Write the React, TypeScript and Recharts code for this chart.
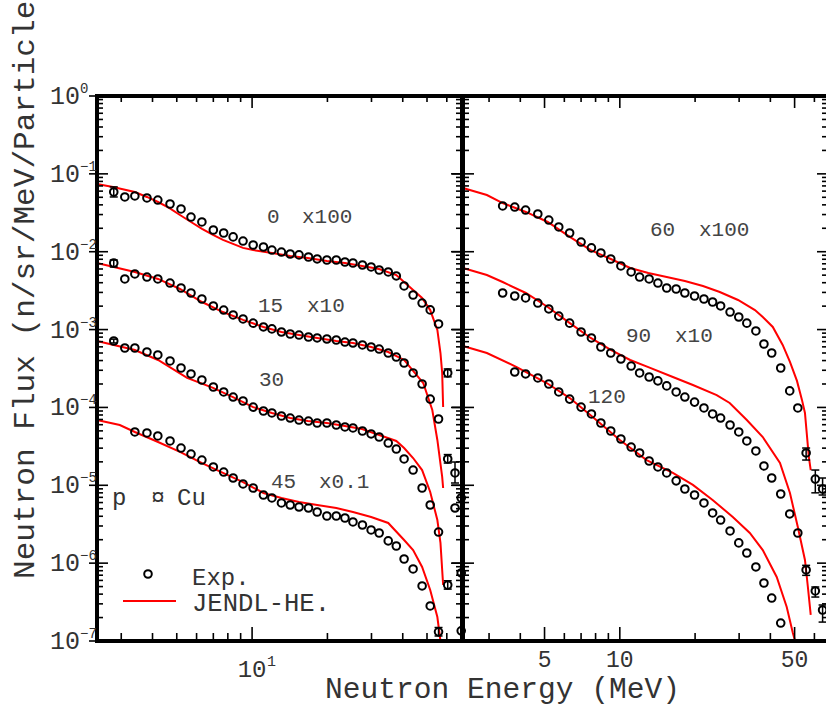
import React from 'react';
import { ComposedChart, Line, Scatter, XAxis, YAxis, ErrorBar } from 'recharts';

// energy bins of the measured spectra (MeV)
const expEnergy = [2.8, 3.1, 3.4, 3.8, 4.2, 4.7, 5.2, 5.7, 6.3, 7.0, 7.7, 8.4, 9.2, 10.1, 11.1, 12.0, 13.1, 14.2, 15.4, 16.8, 18.2, 19.9, 21.7, 23.5, 25.3, 27.6, 29.9, 32.2, 35.0, 37.7, 40.5, 44.0, 47.8, 51.5, 55.6, 60.5, 64.7, 68.5];

// measured flux, left panel (start index into expEnergy)
const exp0 = [0.0585, 0.0505, 0.052, 0.049, 0.0461, 0.041, 0.0354, 0.0279, 0.0241, 0.019, 0.0174, 0.0155, 0.0137, 0.0122, 0.0115, 0.0105, 0.0099, 0.00935, 0.0091, 0.00855, 0.00807, 0.00783, 0.00783, 0.00738, 0.00716, 0.00675, 0.00637, 0.00582, 0.0055, 0.00488, 0.00363, 0.00278, 0.00219, 0.00179, 0.00118, 0.000277];
const exp15 = [7.16e-3, 4.47e-3, 5.18e-3, 4.73e-3, 4.47e-3, 3.96e-3, 3.42e-3, 2.95e-3, 2.47e-3, 2.01e-3, 1.78e-3, 1.54e-3, 1.37e-3, 1.21e-3, 1.08e-3, 1.02e-3, 9.31e-4, 8.77e-4, 8.51e-4, 8.03e-4, 7.8e-4, 7.57e-4, 7.35e-4, 6.92e-4, 6.72e-4, 6.34e-4, 5.97e-4, 5.62e-4, 5.0e-4, 4.44e-4, 3.72e-4, 2.77e-4, 2.0e-4, 1.28e-4, 7.1e-5, 2.18e-5, 1.44e-5, 6.87e-6];
const exp30 = [7.13e-4, 5.8e-4, 5.8e-4, 5.15e-4, 4.72e-4, 3.95e-4, 3.21e-4, 2.69e-4, 2.25e-4, 1.83e-4, 1.58e-4, 1.36e-4, 1.21e-4, 1.01e-4, 9.0e-5, 8.49e-5, 7.76e-5, 7.31e-5, 6.89e-5, 6.69e-5, 6.31e-5, 6.31e-5, 5.95e-5, 5.61e-5, 5.45e-5, 4.98e-5, 4.56e-5, 4.17e-5, 3.49e-5, 2.92e-5, 2.18e-5, 1.57e-5, 9.23e-6, 5.58e-6, 2.51e-6, 5.24e-7, 5.11e-6, 7.48e-7];
const exp45 = [4.84e-5, 4.7e-5, 4.3e-5, 3.71e-5, 3.01e-5, 2.52e-5, 2.11e-5, 1.72e-5, 1.48e-5, 1.24e-5, 1.04e-5, 9.23e-6, 7.5e-6, 6.87e-6, 5.93e-6, 5.58e-6, 5.26e-6, 5.11e-6, 4.54e-6, 4.03e-6, 4.03e-6, 3.8e-6, 3.38e-6, 3.09e-6, 2.67e-6, 2.44e-6, 1.93e-6, 1.66e-6, 1.13e-6, 8.42e-7, 5.09e-7, 2.82e-7, 1.31e-7, null, null, 1.35e-7];

// measured flux, right panel
const exp60 = [0.0387, 0.0375, 0.0343, 0.0305, 0.0255, 0.0208, 0.0174, 0.0133, 0.0112, 0.00964, 0.00806, 0.00656, 0.0055, 0.00473, 0.00447, 0.00396, 0.00342, 0.00332, 0.00295, 0.0027, 0.00247, 0.00226, 0.00201, 0.00168, 0.00145, 0.00121, 0.00096, 0.000653, 0.0005, 0.000321, 0.000163, 9.84e-5, 2.6e-5, 1.2e-5, 8.96e-6];
const exp90 = [0.00295, 0.0027, 0.00255, 0.00219, 0.00184, 0.00149, 0.00121, 0.000931, 0.00078, 0.000597, 0.0005, 0.000419, 0.00034, 0.000277, 0.000246, 0.000219, 0.000189, 0.000158, 0.000136, 0.000117, 9.84e-5, 8.24e-5, 7.31e-5, 5.95e-5, 4.84e-5, 3.71e-5, 2.76e-5, 1.77e-5, 1.24e-5, 7.73e-6, 4.28e-6, 2.44e-6, 8.17e-7, 4.39e-7, 2.5e-7];
const exp120 = [2.85e-4, 2.69e-4, 2.39e-4, 2.0e-4, 1.58e-4, 1.28e-4, 1.01e-4, 8.24e-5, 6.31e-5, 4.98e-5, 3.93e-5, 3.1e-5, 2.6e-5, 2.05e-5, 1.72e-5, 1.44e-5, 1.14e-5, 8.96e-6, 7.5e-6, 5.93e-6, 4.41e-6, 3.58e-6, 2.59e-6, 1.82e-6, 1.35e-6, 8.93e-7, 5.56e-7, 3.56e-7, 1.7e-7];

// error bars: [energy index, lower, upper]
const err0: [number, number, number][] = [[0, 0.008, 0.0095], [35, 3.0e-5, 3.5e-5]];
const err15: [number, number, number][] = [[0, 8e-4, 6.7e-4], [35, 2.5e-6, 3.0e-6], [36, 3.7e-6, 5.5e-6]];
const err30: [number, number, number][] = [[0, 4e-5, 4e-5], [35, 6e-8, 7e-8]];
const err45: [number, number, number][] = [[34, 1.5e-8, 1.8e-8]];
const err60: [number, number, number][] = [[34, 4.9e-6, 4.1e-6], [35, 4.0e-6, 3.7e-6], [36, 1.46e-6, 3.44e-6]];
const err90: [number, number, number][] = [[34, 1.2e-7, 1.2e-7], [35, 7.2e-8, 5.5e-8], [36, 7.5e-8, 4e-8]];

// JENDL-HE calculation [E, flux]
const jendl0 = [[2.4, 0.0741], [2.78, 0.0678], [3.4, 0.0585], [3.8, 0.0505], [4.21, 0.0435], [4.66, 0.0365], [5.15, 0.0296], [5.7, 0.0241], [6.31, 0.0196], [6.98, 0.0164], [7.65, 0.0142], [8.39, 0.0126], [9.2, 0.0112], [10.1, 0.0105], [12.0, 0.00964], [14.2, 0.00881], [16.7, 0.0083], [19.9, 0.0076], [23.5, 0.00716], [27.5, 0.00655], [32.2, 0.006], [37.7, 0.00502], [40.5, 0.00408], [44.0, 0.00322], [47.8, 0.00255], [51.5, 0.00178], [55.0, 0.00099], [56.6, 0.0005], [57.5, 0.000277], [58.0, 0.000101]];
const jendl15 = [[2.4, 7.16e-3], [3.4, 5.5e-3], [4.21, 4.47e-3], [5.15, 3.32e-3], [6.31, 2.26e-3], [7.65, 1.68e-3], [9.2, 1.33e-3], [11.1, 1.08e-3], [13.1, 9.31e-4], [15.4, 8.51e-4], [18.2, 7.8e-4], [21.7, 7.13e-4], [25.3, 6.72e-4], [29.9, 5.97e-4], [35.0, 5.15e-4], [40.5, 4.07e-4], [48.3, 2.06e-4], [52.5, 9.27e-5], [55.0, 3.82e-5], [57.5, 1.28e-5], [58.0, 9.23e-6]];
const jendl30 = [[2.4, 7.13e-4], [3.4, 5.47e-4], [4.21, 4.07e-4], [5.5, 2.39e-4], [6.98, 1.78e-4], [8.39, 1.36e-4], [10.1, 1.01e-4], [12.0, 8.49e-5], [14.2, 7.31e-5], [16.7, 6.69e-5], [19.9, 6.31e-5], [23.5, 5.78e-5], [27.5, 5.28e-5], [32.2, 4.43e-5], [37.7, 3.71e-5], [40.5, 3.01e-5], [44.0, 2.24e-5], [47.8, 1.57e-5], [51.5, 8.2e-6], [55.0, 3.58e-6], [56.6, 1.82e-6], [58.0, 5.24e-7]];
const jendl45 = [[2.4, 6.9e-5], [2.96, 5.95e-5], [3.4, 4.84e-5], [4.21, 3.6e-5], [5.15, 2.68e-5], [6.31, 1.93e-5], [7.65, 1.44e-5], [9.2, 1.1e-5], [11.1, 7.96e-6], [13.1, 6.87e-6], [15.4, 6.1e-6], [18.2, 5.58e-6], [21.7, 5.11e-6], [25.3, 4.54e-6], [29.9, 3.92e-6], [35.0, 3.28e-6], [40.5, 1.98e-6], [44.0, 1.47e-6], [47.8, 8.93e-7], [51.5, 4.52e-7], [55.0, 2.03e-7], [56.6, 1.0e-7]];
const jendl60 = [[2.36, 0.0658], [2.94, 0.0535], [3.4, 0.0422], [4.21, 0.0324], [5.15, 0.0241], [6.31, 0.0155], [7.65, 0.0105], [9.2, 0.00806], [11.0, 0.00618], [13.0, 0.00533], [15.4, 0.00473], [18.2, 0.00421], [21.5, 0.00363], [25.1, 0.00304], [29.7, 0.0024], [34.7, 0.00178], [37.3, 0.00145], [40.9, 0.00108], [44.8, 0.000634], [47.9, 0.000384], [51.1, 0.000219], [53.5, 0.000125], [55.0, 8.49e-5], [57.0, 2.31e-5], [58.0, 1.57e-5]];
const jendl90 = [[2.36, 0.00618], [2.94, 0.00502], [3.4, 0.00408], [4.21, 0.00295], [5.15, 0.00195], [6.31, 0.00121], [7.65, 0.00078], [9.2, 0.000547], [11.0, 0.000407], [13.0, 0.00033], [16.3, 0.000246], [19.6, 0.000194], [24.4, 0.000144], [27.5, 0.000114], [32.2, 6.9e-5], [37.3, 4.17e-5], [43.7, 1.93e-5], [47.9, 7.96e-6], [51.5, 2.91e-6], [55.0, 1.1e-6], [56.5, 4.94e-7], [58.0, 2.16e-7]];
const jendl120 = [[2.36, 0.000615], [2.94, 0.0005], [3.87, 0.00033], [5.1, 0.000206], [6.31, 0.000132], [7.79, 7.54e-5], [10.0, 3.82e-5], [12.8, 2.11e-5], [16.3, 1.44e-5], [19.6, 1.01e-5], [23.5, 6.47e-6], [28.3, 3.92e-6], [33.1, 2.44e-6], [37.3, 1.47e-6], [42.4, 6.64e-7], [46.5, 2.73e-7], [49.2, 1.27e-7], [50.1, 1.03e-7]];

// axes
const yDecades = [1e-7, 1e-6, 1e-5, 1e-4, 1e-3, 1e-2, 1e-1, 1];
const minorSteps = [2, 3, 4, 5, 6, 7, 8, 9];
const xTicks = [3, 4, 5, 6, 7, 8, 9, 10, 20, 30, 40, 50, 60];
const leftXMajor = [10];
const rightXMajor = [5, 10, 50];
const leftDomain: [number, number] = [2.4, 69];
const rightDomain: [number, number] = [2.36, 68];

const yTicks = [...yDecades, ...yDecades.slice(0, -1).flatMap(d => minorSteps.map(k => Number((k * d).toPrecision(2))))].sort((a, b) => a - b);

const MONO = "'Liberation Mono', 'DejaVu Sans Mono', monospace";
const INK = '#333';

type Pt = { e: number; v: number; err?: [number, number] };

function expSeries(start: number, vals: (number | null)[], errs: [number, number, number][] = []): Pt[] {
  const out: Pt[] = [];
  vals.forEach((v, i) => {
    if (v == null) return;
    const idx = start + i;
    const er = errs.find(r => r[0] === idx);
    out.push({ e: expEnergy[idx], v, err: er ? [er[1], er[2]] : undefined });
  });
  return out;
}
const calc = (pairs: number[][]) => pairs.map(([e, v]) => ({ e, v }));

const isDecade = (v: number) => Math.abs(Math.log10(v) - Math.round(Math.log10(v))) < 1e-9;
const expText = (v: number) => {
  const n = Math.round(Math.log10(v));
  return n === 0 ? '0' : '\u2212' + Math.abs(n);
};

function yTick(side: 'l' | 'r', outer: number, labels: boolean) {
  return (p: any) => {
    const { x, y, payload } = p;
    const v = payload.value;
    const major = isDecade(v);
    const inward = major ? 11 : 6;
    const out = major ? outer : 0;
    const x1 = side === 'l' ? x - out : x + out;
    const x2 = side === 'l' ? x + inward : x - inward;
    return (
      <g>
        <line x1={x1} y1={y} x2={x2} y2={y} stroke="#000" strokeWidth={1.6} />
        {labels && major && (
          <>
            <text x={x - 17} y={y + 8} textAnchor="end" fontSize={25} fill={INK} fontFamily={MONO}>10</text>
            <text x={x - 17} y={y - 3} fontSize={14} fill={INK} fontFamily={MONO}>{expText(v)}</text>
          </>
        )}
      </g>
    );
  };
}

function xTick(side: 'b' | 't', majors: number[], label?: 'exp' | 'plain') {
  return (p: any) => {
    const { x, y, payload } = p;
    const v = payload.value;
    const major = majors.includes(v);
    const len = side === 'b' ? (major ? 14 : 8) : (major ? 12 : 6);
    const y2 = side === 'b' ? y - len : y + len;
    return (
      <g>
        <line x1={x} y1={y} x2={x} y2={y2} stroke="#000" strokeWidth={1.6} />
        {major && label === 'exp' && (
          <>
            <text x={x} y={y + 36} textAnchor="middle" fontSize={24} fill={INK} fontFamily={MONO}>10</text>
            <text x={x + 15} y={y + 25} fontSize={15} fill={INK} fontFamily={MONO}>1</text>
          </>
        )}
        {major && label === 'plain' && (
          <text x={x} y={y + 26} textAnchor="middle" fontSize={23} fill={INK} fontFamily={MONO}>{v}</text>
        )}
      </g>
    );
  };
}

const ring = (p: any) => {
  if (p.cx == null || p.cy == null) return <g />;
  return <circle cx={p.cx} cy={p.cy} r={3.8} fill="none" stroke="#000" strokeWidth={2} />;
};

const spine = { stroke: '#000', strokeWidth: 4, strokeLinecap: 'square' as const };

type PanelProps = {
  left: number;
  width: number;
  margin: { top: number; right: number; bottom: number; left: number };
  domain: [number, number];
  xMajor: number[];
  xLabel: 'exp' | 'plain';
  yLabels: boolean;
  leftOuter: number;
  lines: { e: number; v: number }[][];
  points: Pt[][];
};

// axes are 1px wide/high so they still draw; margins are reduced by that pixel
function Panel({ left, width, margin, domain, xMajor, xLabel, yLabels, leftOuter, lines, points }: PanelProps) {
  return (
    <div style={{ position: 'absolute', left, top: 0 }}>
      <ComposedChart width={width} height={711} margin={margin}>
        <XAxis xAxisId="b" type="number" dataKey="e" scale="log" domain={domain} ticks={xTicks} interval={0}
          height={1} tickSize={0} tickMargin={0} tickLine={false} axisLine={spine} tick={xTick('b', xMajor, xLabel)} />
        <XAxis xAxisId="t" orientation="top" type="number" dataKey="e" scale="log" domain={domain} allowDataOverflow ticks={xTicks} interval={0}
          height={1} tickSize={0} tickMargin={0} tickLine={false} axisLine={spine} tick={xTick('t', xMajor)} />
        <YAxis yAxisId="l" type="number" dataKey="v" scale="log" domain={[1e-7, 1]} ticks={yTicks} interval={0}
          width={1} tickSize={0} tickMargin={0} tickLine={false} axisLine={spine} tick={yTick('l', leftOuter, yLabels)} />
        <YAxis yAxisId="r" orientation="right" type="number" dataKey="v" scale="log" domain={[1e-7, 1]} allowDataOverflow ticks={yTicks} interval={0}
          width={1} tickSize={0} tickMargin={0} tickLine={false} axisLine={spine} tick={yTick('r', 0, false)} />
        {lines.map((d, i) => (
          <Line key={'l' + i} xAxisId="b" yAxisId="l" data={d} dataKey="v" type="linear" stroke="#ff0000"
            strokeWidth={2} dot={false} activeDot={false} isAnimationActive={false} />
        ))}
        {points.map((d, i) => (
          <Scatter key={'s' + i} xAxisId="b" yAxisId="l" data={d} dataKey="v" shape={ring} isAnimationActive={false}>
            <ErrorBar dataKey="err" direction="y" width={4} stroke="#000" strokeWidth={1.5} />
          </Scatter>
        ))}
      </ComposedChart>
    </div>
  );
}

export default function App() {
  const t = { fill: INK, fontFamily: MONO } as const;
  const a = { fill: '#444', fontFamily: MONO, fontSize: 21 } as const;
  return (
    <div style={{ position: 'fixed', left: 0, top: 0, width: 826, height: 711, overflow: 'hidden', background: '#fff' }}>
      <Panel left={0} width={470} margin={{ top: 95, right: 7, bottom: 69, left: 96 }} domain={leftDomain}
        xMajor={leftXMajor} xLabel="exp" yLabels leftOuter={8}
        lines={[calc(jendl0), calc(jendl15), calc(jendl30), calc(jendl45)]}
        points={[expSeries(0, exp0, err0), expSeries(0, exp15, err15), expSeries(0, exp30, err30), expSeries(2, exp45, err45)]} />
      <Panel left={440} width={400} margin={{ top: 95, right: 11, bottom: 69, left: 22 }} domain={rightDomain}
        xMajor={rightXMajor} xLabel="plain" yLabels={false} leftOuter={11}
        lines={[calc(jendl60), calc(jendl90), calc(jendl120)]}
        points={[expSeries(2, exp60, err60), expSeries(2, exp90, err90), expSeries(3, exp120)]} />
      <svg width={826} height={711} style={{ position: 'absolute', left: 0, top: 0, pointerEvents: 'none' }}>
        <text {...t} transform="rotate(-90)" x={-579} y={34} fontSize={29} textLength={597} lengthAdjust="spacingAndGlyphs">
          Neutron Flux (n/sr/MeV/Particle)
        </text>
        <text {...t} x={325} y={698} fontSize={29} textLength={355} lengthAdjust="spacingAndGlyphs">Neutron Energy (MeV)</text>

        <text {...a} x={267} y={223}>0</text>
        <text {...a} x={302} y={223}>x100</text>
        <text {...a} x={258} y={312}>15</text>
        <text {...a} x={307} y={312}>x10</text>
        <text {...a} x={259} y={386}>30</text>
        <text {...a} x={271} y={488}>45</text>
        <text {...a} x={319} y={488}>x0.1</text>
        <text {...a} x={650} y={236}>60</text>
        <text {...a} x={699} y={236}>x100</text>
        <text {...a} x={626} y={342}>90</text>
        <text {...a} x={675} y={342}>x10</text>
        <text {...a} x={588} y={403}>120</text>

        <text {...t} x={112} y={505} fontSize={24}>p</text>
        <text {...t} x={158} y={505} fontSize={24} textAnchor="middle">¤</text>
        <text {...t} x={177} y={505} fontSize={24}>Cu</text>

        <circle cx={148} cy={574} r={3.8} fill="none" stroke="#000" strokeWidth={2} />
        <text {...t} x={192} y={585} fontSize={24}>Exp.</text>
        <line x1={123} y1={601} x2={176} y2={601} stroke="#ff0000" strokeWidth={2} />
        <text {...t} x={192} y={611} fontSize={25} textLength={138} lengthAdjust="spacingAndGlyphs">JENDL-HE.</text>
      </svg>
    </div>
  );
}
